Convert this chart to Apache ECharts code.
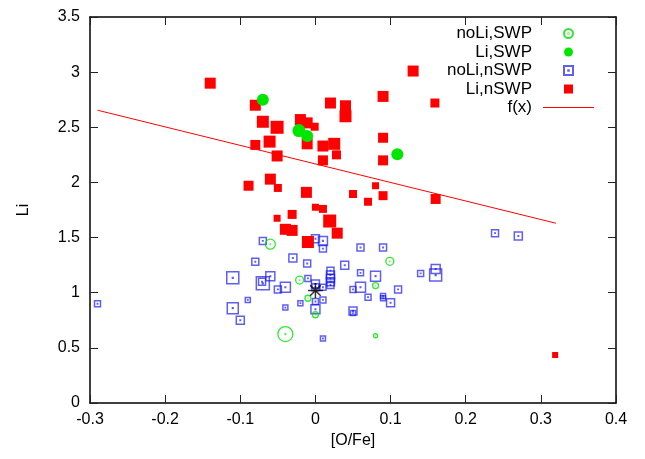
<!DOCTYPE html>
<html>
<head>
<meta charset="utf-8">
<script src="https://cdn.jsdelivr.net/npm/echarts@6/dist/echarts.min.js"></script>
<style>
  html, body { margin: 0; background: #fff; }
  #chart { width: 645px; height: 459px; }
</style>
</head>
<body>
<div id="chart"></div>
<script>
// [O/Fe], Li, err
const noLiSWP = [
  [-0.060, 1.44, 0.10], [-0.021, 1.115, 0.08], [-0.010, 0.95, 0.06], [0.000, 0.80, 0.06],
  [-0.040, 0.625, 0.15], [0.099, 1.285, 0.08], [0.080, 1.065, 0.06], [0.080, 0.61, 0.04]
];
const liSWP = [
  [-0.070, 2.75, 0.12], [-0.022, 2.47, 0.13], [-0.011, 2.42, 0.12], [0.109, 2.255, 0.12]
];
const noLiNSWP = [
  [-0.290, 0.90, 0.06], [-0.070, 1.47, 0.07], [-0.080, 1.28, 0.07], [-0.030, 1.315, 0.08],
  [-0.011, 1.265, 0.07], [-0.110, 1.135, 0.12], [-0.060, 1.15, 0.09], [-0.071, 1.10, 0.07],
  [-0.070, 1.085, 0.13], [-0.050, 1.03, 0.07], [-0.040, 1.05, 0.10], [-0.090, 0.935, 0.05],
  [-0.110, 0.86, 0.11], [-0.100, 0.75, 0.08], [-0.040, 0.865, 0.05], [-0.020, 0.905, 0.05],
  [-0.010, 1.13, 0.06], [0.000, 1.49, 0.08], [0.010, 1.47, 0.09], [0.010, 1.40, 0.07],
  [0.000, 1.08, 0.08], [0.000, 1.05, 0.07], [0.010, 1.05, 0.06], [0.010, 0.935, 0.06],
  [0.000, 0.92, 0.06], [0.000, 0.85, 0.09], [0.010, 0.585, 0.05], [0.020, 1.20, 0.07],
  [0.020, 1.16, 0.08], [0.020, 1.13, 0.08], [0.020, 1.10, 0.08], [0.020, 1.07, 0.07],
  [0.039, 1.25, 0.08], [0.050, 1.03, 0.06], [0.050, 0.835, 0.08], [0.050, 0.815, 0.05],
  [0.060, 1.41, 0.07], [0.090, 1.41, 0.07], [0.060, 1.18, 0.06], [0.080, 1.15, 0.10],
  [0.060, 1.05, 0.10], [0.070, 0.96, 0.06], [0.090, 0.97, 0.05], [0.090, 0.95, 0.05],
  [0.110, 1.03, 0.07], [0.100, 0.91, 0.08], [0.140, 1.175, 0.06], [0.160, 1.215, 0.09],
  [0.160, 1.16, 0.12], [0.239, 1.54, 0.07], [0.270, 1.515, 0.08]
];
const liNSWP = [
  [-0.140, 2.90, 0.11], [-0.080, 2.70, 0.11], [-0.070, 2.55, 0.12], [-0.051, 2.50, 0.13],
  [-0.020, 2.57, 0.11], [-0.011, 2.54, 0.11], [-0.001, 2.505, 0.08], [-0.080, 2.34, 0.10],
  [-0.061, 2.37, 0.12], [-0.051, 2.24, 0.11], [-0.011, 2.35, 0.11], [0.010, 2.33, 0.11],
  [0.025, 2.35, 0.12], [0.028, 2.25, 0.09], [0.010, 2.20, 0.10], [0.130, 3.01, 0.11],
  [0.090, 2.78, 0.11], [0.159, 2.72, 0.09], [0.020, 2.72, 0.11], [0.040, 2.695, 0.11],
  [0.040, 2.60, 0.12], [0.090, 2.405, 0.10], [0.090, 2.20, 0.10], [-0.089, 1.97, 0.10],
  [-0.060, 2.03, 0.11], [-0.050, 1.95, 0.08], [-0.012, 1.91, 0.11], [0.050, 1.895, 0.08],
  [0.000, 1.775, 0.07], [0.010, 1.76, 0.08], [-0.031, 1.71, 0.09], [-0.051, 1.675, 0.07],
  [-0.040, 1.575, 0.11], [-0.031, 1.565, 0.11], [-0.010, 1.46, 0.12], [0.080, 1.97, 0.07],
  [0.090, 1.88, 0.09], [0.070, 1.825, 0.08], [0.160, 1.85, 0.10], [0.019, 1.65, 0.13],
  [0.029, 1.54, 0.11], [0.319, 0.435, 0.06]
];
const sun = [[0.0, 1.02]];
const fitX = [-0.29, 0.32];
const fitY = [2.655, 1.63];

const ringDot = 'path://M5,0A5,5,0,1,1,5,10A5,5,0,1,1,5,0ZM5,4.7A0.3,0.3,0,1,1,5,5.3A0.3,0.3,0,1,1,5,4.7Z';
const boxDot = 'path://M0,0H10V10H0ZM4.7,4.7H5.3V5.3H4.7Z';
const box = 'path://M0,0H10V10H0Z';
const star = 'path://M5,0V10M0,5H10M1.5,1.5L8.5,8.5M1.5,8.5L8.5,1.5';
const errSize = v => v[2] * 100;

const font = 'Liberation Sans, Arial, sans-serif';
const axisCommon = {
  type: 'value',
  axisLine: { onZero: false, lineStyle: { color: '#000', width: 1.5 } },
  axisTick: { inside: true, length: 8, lineStyle: { color: '#222' } },
  splitLine: { show: false },
  axisLabel: { fontSize: 16, color: '#000', fontFamily: font }
};

const myChart = echarts.init(document.getElementById('chart'));
myChart.setOption({
  animation: false,
  grid: { left: 90, right: 29, top: 17, bottom: 56 },
  legend: {
    orient: 'vertical', right: 51, top: 25, align: 'right', padding: 0,
    itemWidth: 51, itemHeight: 9, itemGap: 1.5,
    textStyle: { fontSize: 17, color: '#000', fontFamily: font, padding: [0, 6, 0, 0] },
    data: [
      { name: 'noLi,SWP' },
      { name: 'Li,SWP' },
      { name: 'noLi,nSWP' },
      { name: 'Li,nSWP', icon: box },
      { name: 'f(x)', icon: 'path://M0,0H51V1.2H0Z' }
    ]
  },
  xAxis: [
    Object.assign({}, axisCommon, {
      min: -0.3, max: 0.4, interval: 0.1, position: 'bottom',
      axisLabel: Object.assign({}, axisCommon.axisLabel, { margin: 9 }),
      name: '[O/Fe]', nameLocation: 'middle', nameGap: 30,
      nameTextStyle: { fontSize: 16, color: '#000', fontFamily: font }
    }),
    Object.assign({}, axisCommon, {
      min: -0.3, max: 0.4, interval: 0.1, position: 'top',
      axisLabel: { show: false }
    })
  ],
  yAxis: [
    Object.assign({}, axisCommon, {
      min: 0, max: 3.5, interval: 0.5, position: 'left',
      axisLabel: Object.assign({}, axisCommon.axisLabel, { margin: 10 }),
      name: 'Li', nameLocation: 'middle', nameGap: 58, nameRotate: 90,
      nameTextStyle: { fontSize: 16, color: '#000', fontFamily: font }
    }),
    Object.assign({}, axisCommon, {
      min: 0, max: 3.5, interval: 0.5, position: 'right',
      axisLabel: { show: false }
    })
  ],
  series: [
    {
      name: 'f(x)', type: 'line', symbol: 'none',
      data: fitX.map((x, i) => [x, fitY[i]]),
      lineStyle: { color: '#ff0000', width: 1 },
      itemStyle: { color: '#ff0000' }
    },
    {
      name: 'noLi,nSWP', type: 'scatter', symbol: boxDot, symbolSize: errSize,
      data: noLiNSWP,
      itemStyle: { color: 'transparent', borderColor: 'rgba(20,20,235,0.85)', borderWidth: 1.5 }
    },
    {
      name: 'noLi,SWP', type: 'scatter', symbol: ringDot, symbolSize: errSize,
      data: noLiSWP,
      itemStyle: { color: 'transparent', borderColor: '#00e000', borderWidth: 1.3 }
    },
    {
      name: 'Li,nSWP', type: 'scatter', symbol: box, symbolSize: errSize,
      data: liNSWP,
      itemStyle: { color: '#ff0000', opacity: 1 }
    },
    {
      name: 'Li,SWP', type: 'scatter', symbol: 'circle', symbolSize: errSize,
      data: liSWP,
      itemStyle: { color: '#00e600', opacity: 1 }
    },
    {
      name: 'sun', type: 'scatter', symbol: star, symbolSize: 15,
      data: sun,
      itemStyle: { color: 'transparent', borderColor: '#000', borderWidth: 1.5 }
    }
  ]
});
</script>
</body>
</html>
